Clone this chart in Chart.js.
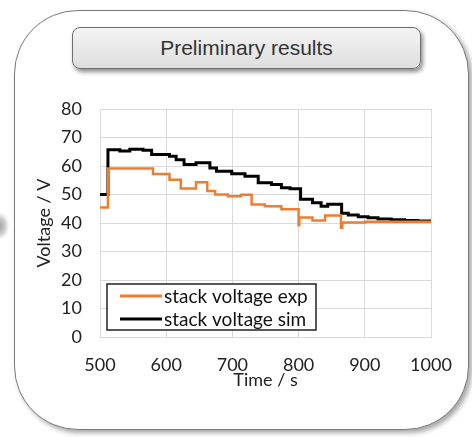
<!DOCTYPE html>
<html>
<head>
<meta charset="utf-8">
<script src="https://cdn.jsdelivr.net/npm/chart.js@4"></script>
<style>
  html, body { margin: 0; padding: 0; background: #fff; }
  body { width: 472px; height: 437px; position: relative; overflow: hidden; }
  #frame {
    position: absolute; left: 14px; top: 10px; width: 453px; height: 418px;
    border: 1.5px solid #7a7a7a; border-radius: 64px; background: #fff;
    box-shadow: 3px 3px 5px rgba(0,0,0,0.35);
  }
  #arrow {
    position: absolute; left: -6px; top: 214px; width: 14px; height: 24px;
    background: radial-gradient(ellipse at 30% 50%, #9a9a9a 0%, #c8c8c8 50%, rgba(255,255,255,0) 80%);
    filter: blur(1.5px);
  }
  #title {
    position: absolute; left: 72px; top: 27px; width: 347px; height: 40px;
    border: 1px solid #6e6e6e; border-radius: 8px;
    background: linear-gradient(#f4f4f4, #dedede);
    box-shadow: 2px 3px 4px rgba(0,0,0,0.45);
    font-family: "Liberation Sans", Arial, sans-serif; font-size: 21px; color: #333;
    text-align: center; line-height: 40px;
  }
  #chart { position: absolute; left: 0; top: 0; }
</style>
</head>
<body>
<div id="arrow"></div>
<div id="frame"></div>
<div id="title">Preliminary results</div>
<canvas id="chart" width="472" height="437"></canvas>
<script>
// Step data (time in s, voltage in V)
const expTime = [500, 512, 580, 605, 622, 645, 662, 674, 693, 713, 729, 749, 774, 800, 801, 821, 840, 864, 866, 900, 950, 1000];
const expVolt = [45.4, 59.1, 57.2, 55.2, 52.1, 54.3, 51.2, 50.0, 49.4, 49.9, 46.5, 45.9, 44.8, 39.2, 41.9, 40.9, 42.6, 38.3, 40.2, 40.4, 40.4, 40.4];

const simTime = [500, 512, 530, 545, 565, 578, 605, 615, 627, 645, 666, 676, 699, 719, 739, 759, 774, 787, 803, 821, 834, 844, 865, 875, 890, 905, 920, 940, 960, 980, 1000];
const simVolt = [50.0, 65.7, 65.3, 65.9, 65.5, 64.0, 63.4, 62.2, 60.5, 61.1, 59.3, 58.2, 57.3, 56.4, 54.1, 53.5, 52.4, 52.0, 48.3, 47.1, 45.9, 46.6, 43.4, 42.8, 42.2, 41.8, 41.4, 41.1, 40.9, 40.7, 40.5];

const xTicks = [500, 600, 700, 800, 900, 1000];
const seriesLabels = ['stack voltage exp', 'stack voltage sim'];

const FONT = 'Lato, "Open Sans", sans-serif';
const pts = (t, v) => t.map((x, i) => ({ x: x, y: v[i] }));

// legend drawn inside the plot, like the Excel original
const insideLegend = {
  id: 'insideLegend',
  afterDraw(chart) {
    const ctx = chart.ctx;
    const a = chart.chartArea;
    const x0 = a.left + 7, y0 = a.bottom - 53, w = 209, h = 46;
    ctx.save();
    ctx.fillStyle = '#fff';
    ctx.fillRect(x0, y0, w, h);
    ctx.strokeStyle = '#222';
    ctx.lineWidth = 1.5;
    ctx.strokeRect(x0, y0, w, h);
    ctx.font = '19px ' + FONT;
    ctx.textBaseline = 'middle';
    chart.data.datasets.forEach((ds, i) => {
      const y = y0 + 12 + i * 23;
      ctx.strokeStyle = ds.borderColor;
      ctx.lineWidth = 3;
      ctx.beginPath();
      ctx.moveTo(x0 + 13, y);
      ctx.lineTo(x0 + 55, y);
      ctx.stroke();
      ctx.fillStyle = '#111';
      ctx.fillText(ds.label, x0 + 57, y + 1);
    });
    ctx.restore();
  }
};

new Chart(document.getElementById('chart'), {
  type: 'line',
  data: {
    datasets: [{
      label: seriesLabels[0],
      data: pts(expTime, expVolt),
      borderColor: '#ed7d31',
      borderWidth: 2.5,
      stepped: true,
      pointRadius: 0
    }, {
      label: seriesLabels[1],
      data: pts(simTime, simVolt),
      borderColor: '#000000',
      borderWidth: 3,
      stepped: true,
      pointRadius: 0
    }]
  },
  options: {
    responsive: false,
    animation: false,
    layout: { padding: { left: 0, top: 109, right: 41, bottom: 40 } },
    plugins: { legend: { display: false }, tooltip: { enabled: false } },
    scales: {
      x: {
        type: 'linear', min: 500, max: 1000,
        afterBuildTicks: s => { s.ticks = xTicks.map(v => ({ value: v })); },
        afterFit: s => { s.height = 60; },
        grid: { color: '#d9d9d9', drawTicks: false },
        border: { color: '#d9d9d9' },
        ticks: { padding: 17, color: '#222', font: { family: FONT, size: 18 }, callback: v => String(v) },
        title: { display: true, text: 'Time / s', color: '#222', padding: { top: 0, bottom: 6 }, font: { family: FONT, size: 18 } }
      },
      y: {
        min: 0, max: 80,
        afterFit: s => { s.width = 100; },
        grid: { color: '#d9d9d9', drawTicks: false },
        border: { color: '#d9d9d9' },
        ticks: { stepSize: 10, padding: 18, color: '#222', font: { family: FONT, size: 18 } },
        title: { display: true, text: 'Voltage / V', color: '#222', padding: { top: 33, bottom: 0 }, font: { family: FONT, size: 18 } }
      }
    }
  },
  plugins: [insideLegend]
});
</script>
</body>
</html>
